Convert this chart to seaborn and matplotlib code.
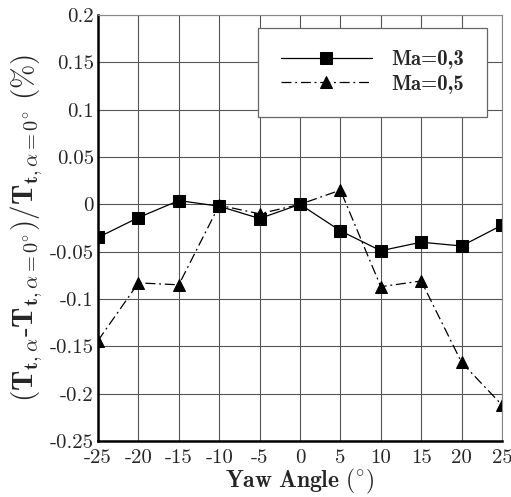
import numpy as np
import pandas as pd
import seaborn as sns
import matplotlib
matplotlib.use("Agg")
import matplotlib.pyplot as plt
from matplotlib.ticker import MultipleLocator

# Data
yaw = [-25, -20, -15, -10, -5, 0, 5, 10, 15, 20, 25]
ma03 = [-0.035, -0.014, 0.004, -0.002, -0.015, 0.0, -0.028, -0.049, -0.040, -0.044, -0.022]
ma05 = [-0.144, -0.083, -0.085, -0.001, -0.010, 0.0, 0.015, -0.087, -0.081, -0.167, -0.212]
xticks = [-25, -20, -15, -10, -5, 0, 5, 10, 15, 20, 25]
yticks = [-0.25, -0.2, -0.15, -0.1, -0.05, 0, 0.05, 0.1, 0.15, 0.2]
ytick_labels = ["-0.25", "-0.2", "-0.15", "-0.1", "-0.05", "0", "0.05", "0.1", "0.15", "0.2"]
xtick_labels = ["-25", "-20", "-15", "-10", "-5", "0", "5", "10", "15", "20", "25"]

sns.set_style("white")
plt.rcParams["font.family"] = ["cmr10", "DejaVu Serif"]
plt.rcParams["mathtext.fontset"] = "cm"
plt.rcParams["axes.unicode_minus"] = False

df = pd.DataFrame({"yaw": yaw, "Ma=0,3": ma03, "Ma=0,5": ma05})

fig = plt.figure(figsize=(5.11, 4.97), dpi=100)
ax = fig.add_axes([0.1918, 0.1127, 0.7906, 0.8571])

sns.lineplot(data=df, x="yaw", y="Ma=0,3", ax=ax, color="black", lw=0.9,
             marker="s", markersize=8.5, markeredgecolor="black", label="Ma=0,3")
sns.lineplot(data=df, x="yaw", y="Ma=0,5", ax=ax, color="black", lw=0.9,
             linestyle=(0, (8, 3, 1.5, 3)), marker="^", markersize=8.5,
             markeredgecolor="black", label="Ma=0,5")

ax.set_xlim(-25, 25)
ax.set_ylim(-0.25, 0.2)
ax.set_xticks(xticks)
ax.set_xticklabels(xtick_labels)
ax.set_yticks(yticks)
ax.set_yticklabels(ytick_labels)
ax.xaxis.set_minor_locator(MultipleLocator(1))
ax.yaxis.set_minor_locator(MultipleLocator(0.01))
ax.grid(True, which="major", color="#555555", lw=0.8)
ax.set_axisbelow(True)

ax.tick_params(which="major", direction="in", length=9, width=1.8, labelsize=15,
               top=False, right=False, pad=3)
ax.tick_params(axis="x", which="major", pad=6)
ax.tick_params(which="minor", direction="in", length=5, width=0.8,
               top=False, right=False)
for s in ["left", "bottom"]:
    ax.spines[s].set_linewidth(1.8)
    ax.spines[s].set_color("black")
for s in ["top", "right"]:
    ax.spines[s].set_linewidth(0.8)
    ax.spines[s].set_color("#888888")

ax.set_xlabel(r"$\mathbf{Yaw\ Angle\ (}^{\circ}\mathbf{)}$", fontsize=17, labelpad=0)
ax.set_ylabel(r"$\mathbf{(T_{t,\alpha}}$-$\mathbf{T_{t,\alpha=0^{\circ}})/T_{t,\alpha=0^{\circ}}\ (\%)}$",
              fontsize=21, labelpad=4)

leg = ax.legend(loc="upper right", bbox_to_anchor=(0.988, 0.995), fancybox=False,
                framealpha=1, edgecolor="#666666", handlelength=4.4,
                borderpad=1.1, labelspacing=0.25, handletextpad=0.9,
                prop={"family": "cmb10", "size": 15})
leg.get_frame().set_linewidth(0.9)

fig.savefig("out.png", dpi=100)
